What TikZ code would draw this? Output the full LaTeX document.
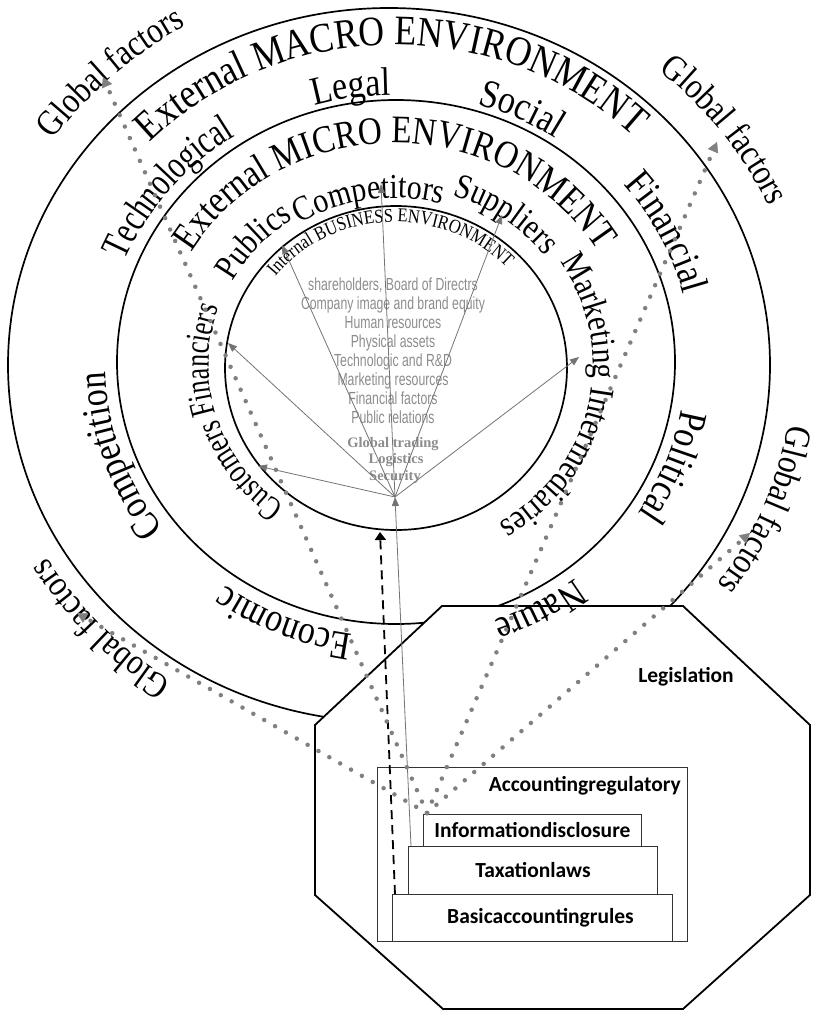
\documentclass[tikz,border=0pt]{standalone}
\usepackage{fontspec}
\setmainfont{Liberation Serif}
\newfontfamily\ringfont[FakeStretch=0.85]{Liberation Serif}
\newfontfamily\ringnarrow[FakeStretch=0.74]{Liberation Serif}
\newfontfamily\narrowsans[FakeStretch=0.70]{Liberation Sans}
\newfontfamily\boxsans{Carlito}
\usetikzlibrary{arrows.meta,decorations.text}

% text along a clockwise ring: [size]{radius}{mid angle}{text}
\newcommand{\ringtext}[4][30]{%
  \path[decorate, decoration={text along path, text align=center,
      text={|\ringfont\fontsize{#1}{#1}\selectfont|#4}}]
    (ctr) ++({#3+85}:{1.065*#2} and {#2})
    arc[start angle={#3+85}, end angle={#3-85}, x radius={1.065*#2}, y radius={#2}];%
}

\begin{document}
\begin{tikzpicture}[x=1pt, y=1pt,
    ring/.style={line width=1.7pt},
    box/.style={draw=black!80, line width=0.9pt, fill=white, inner sep=0pt,
      anchor=north west, font=\boxsans\bfseries\fontsize{21.5}{21.5}\selectfont},
    boxlabel/.style={font=\boxsans\bfseries\fontsize{21.5}{21.5}\selectfont, inner sep=0pt},
    asset/.style={text=black!45, inner sep=0pt, anchor=base,
      font=\narrowsans\fontsize{17.5}{17.5}\selectfont},
    hub asset/.style={text=black!45, inner sep=0pt, anchor=base,
      font=\bfseries\fontsize{14.5}{14.5}\selectfont},
    fan/.style={draw=black!55, line width=0.8pt, -{Triangle[length=9pt,width=7pt]}},
    dots/.style={draw=black!50, line width=4.5pt, line cap=round,
      dash pattern=on 0pt off 12.5pt, -{Triangle[length=10pt,width=11pt,line width=0.4pt]}}]
  \useasboundingbox (0,0) rectangle (815,-1012);
  \coordinate (ctr) at (395,-365);

  % environments
  \draw[ring] (389,-365) ellipse [x radius=381, y radius=357];
  \draw[ring] (396,-362) ellipse [x radius=279, y radius=262];
  \draw[ring] (396,-368) ellipse [x radius=171, y radius=162];

  % legislation block
  \draw[line width=1.8pt, fill=white] (442,-606) -- (683,-606) -- (810,-725) -- (810,-895)
    -- (683,-1009) -- (443,-1009) -- (315,-895) -- (315,-725) -- cycle;
  \node[boxlabel] (legis) at (686,-677) {Legislation};
  \node[box, minimum width=310pt, minimum height=174pt] (acc) at (377,-767) {};
  \node[boxlabel, anchor=east] (acclabel) at (681,-786) {Accountingregulatory};
  \node[box, minimum width=218pt, minimum height=32pt] (info) at (423,-814) {Informationdisclosure};
  \node[box, minimum width=249pt, minimum height=48pt] (tax) at (408,-846) {Taxationlaws};
  \node[box, minimum width=280pt, minimum height=47pt] (basic) at (392,-894) {\hspace*{16pt}Basicaccountingrules};

  % ring labels
  \ringtext[42]{320}{90.8}{External MACRO ENVIRONMENT}
  \ringtext[40]{270}{99}{Legal}
  \ringtext[40]{272}{63.5}{Social}
  \ringtext{274}{142}{|\ringnarrow\fontsize{40}{40}\selectfont|Technological}
  \ringtext[40]{280}{26}{Financial}
  \ringtext[40]{272}{198.2}{Competition}
  \ringtext[40]{272}{-20.1}{Political}
  \ringtext[40]{272}{246.7}{Economic}
  \ringtext[40]{272}{-59.4}{Nature}
  \ringtext[39]{222}{90.2}{External MICRO ENVIRONMENT}
  \ringtext[35]{174}{138.9}{Publics}
  \ringtext[35]{167}{98.9}{Competitors}
  \ringtext[35]{178}{53.5}{Suppliers}
  \ringtext[35]{186}{-12}{Marketing Intermediaries}
  \ringtext{175}{196.5}{|\ringnarrow\fontsize{35}{35}\selectfont|Customers Financiers}
  \ringtext[19.5]{143}{92.4}{Internal BUSINESS ENVIRONMENT}
  \ringtext[36.5]{392}{134.2}{Global factors}
  \ringtext[36.5]{385}{35.5}{Global factors}
  \ringtext[36.5]{374}{-21.4}{Global factors}
  \ringtext[36.5]{379}{221.8}{Global factors}

  % internal resources
  \foreach \txt [count=\i] in {{shareholders, Board of Directrs}, Company image and brand equity,
      Human resources, Physical assets, Technologic and R\&D, Marketing resources,
      Financial factors, Public relations}
    \node[asset] (asset\i) at (393,{-290-19.1*(\i-1)}) {\txt};
  \node[hub asset] (trade) at (393,-447) {Global trading};
  \node[hub asset] (logis) at (396,-463) {Logistics};
  \node[hub asset] (secur) at (395,-480) {Security};

  % links
  \coordinate (hub) at (395,-497);
  \coordinate (innerbot) at (380,-532);
  \foreach \tip in {(228,-343), (258,-466), (282,-245), (381,-184), (502,-215), (579,-357)}
    \draw[fan] (hub) -- \tip;
  \draw[fan] ([xshift=3pt]tax.north west) -- (hub);
  \draw[line width=1.8pt, dash pattern=on 9pt off 6pt, -{Triangle[length=8pt,width=11pt]}]
    ([xshift=3pt]basic.north west) -- (innerbot);

  \coordinate (src) at ([shift={(4pt,1pt)}]info.north west);
  \coordinate (gfTL) at (103,-77);
  \coordinate (gfTR) at (717,-142);
  \coordinate (gfR) at (750,-533);
  \coordinate (gfBL) at (77,-613);
  \foreach \g in {gfTL, gfTR, gfR, gfBL}
    \draw[dots] (src) -- (\g);
\end{tikzpicture}
\end{document}
